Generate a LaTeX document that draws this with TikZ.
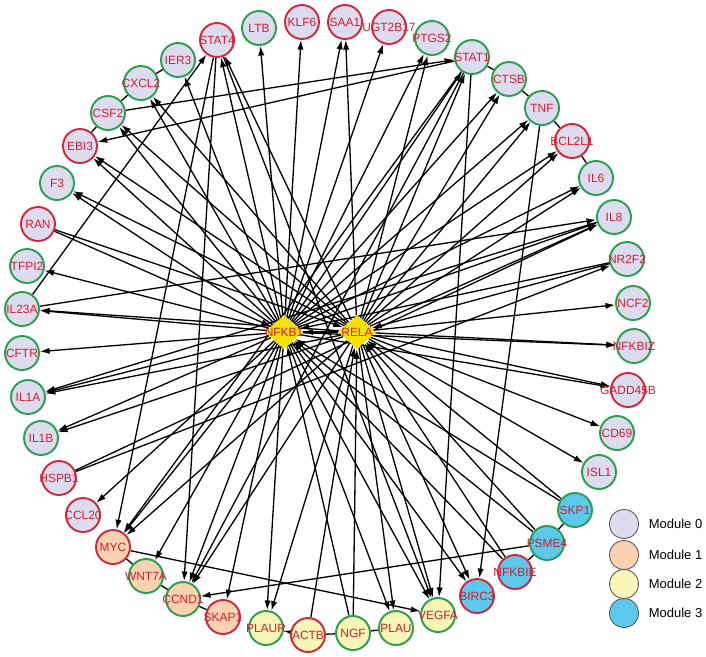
\documentclass[tikz,border=0pt]{standalone}
\usepackage{fontspec}
\setmainfont{Liberation Sans}
\usetikzlibrary{arrows.meta,positioning,shapes.geometric,backgrounds}

\definecolor{modzero}{RGB}{220,220,238}
\definecolor{modone}{RGB}{250,210,178}
\definecolor{modtwo}{RGB}{248,245,182}
\definecolor{modthree}{RGB}{92,200,236}
\definecolor{ringgreen}{RGB}{40,160,80}
\definecolor{ringred}{RGB}{210,40,60}
\definecolor{genered}{RGB}{210,30,50}
\definecolor{hubyellow}{RGB}{245,225,0}

\begin{document}
\begin{tikzpicture}[
  x=0.02cm, y=-0.02cm,
  font=\fontsize{6.8}{8}\selectfont,
  link/.style={-{Latex[length=5.5pt,width=3.6pt]}, line width=0.75pt},
  tie/.style={line width=0.75pt},
  gene/.style={circle, draw, line width=1.1pt, minimum size=0.68cm, inner sep=0pt},
  gtext/.style={text=genered, inner sep=0pt},
  mod0/.style={fill=modzero},
  mod1/.style={fill=modone},
  mod2/.style={fill=modtwo},
  mod3/.style={fill=modthree},
  ringr/.style={draw=ringred},
  ringg/.style={draw=ringgreen},
  hub/.style={diamond, fill=hubyellow, minimum width=0.76cm, minimum height=0.68cm, inner sep=0pt},
  key/.style={circle, draw=gray!70!black, line width=0.5pt, minimum size=0.58cm, inner sep=0pt},
  keytext/.style={font=\fontsize{7.4}{9}\selectfont, inner sep=0pt}
]
\useasboundingbox (0,0) rectangle (706,656);

% Hubs in the middle.
\node[hub, label={[gtext]center:NFKB1}] (NFKB1) at (284,332) {};
\node[hub, label={[gtext]center:RELA}] (RELA) at (357,332) {};

% Genes on the ring: name/x/y/module/ring colour.
\foreach \n/\x/\y/\m/\r in {
  STAT4/217/40/0/r, LTB/259/28/0/g, KLF6/302/22/0/r, SAA1/345/22/0/r,
  UGT2B17/389/27/0/r, PTGS2/432/38/0/g, STAT1/472/57/0/g, CTSB/509/79/0/g,
  TNF/542/108/0/g, BCL2L1/572/141/0/r, IL6/596/178/0/g, IL8/614/217/0/g,
  NR2F2/627/259/0/g, NCF2/633/303/0/g, NFKBIZ/634/346/0/g, GADD45B/628/390/0/r,
  CD69/617/433/0/g, ISL1/599/472/0/g, SKP1/575/510/3/g, PSME4/547/543/3/g,
  NFKBIE/515/572/3/r, BIRC3/477/596/3/r, VEGFA/438/615/2/g, PLAU/396/628/2/g,
  NGF/353/633/2/g, ACTB/308/635/2/r, PLAUR/266/628/2/g, SKAP1/223/617/1/r,
  CCND1/183/599/1/g, WNT7A/146/576/1/g, MYC/113/547/1/r, CCL20/83/515/0/r,
  HSPB1/59/478/0/r, IL1B/41/438/0/g, IL1A/28/397/0/g, CFTR/22/353/0/g,
  IL23A/22/309/0/g, TFPI2/27/266/0/g, RAN/38/224/0/r, F3/57/183/0/g,
  EBI3/80/146/0/r, CSF2/108/113/0/g, CXCL2/141/83/0/g, IER3/178/60/0/g}
  \node[gene, mod\m, ring\r, label={[gtext]center:\n}] (\n) at (\x,\y) {};

% Legend.
\node[key, mod0] (key0) at (624,524) {};
\node[key, mod1] (key1) at (624,555) {};
\node[key, mod2] (key2) at (624,584) {};
\node[key, mod3] (key3) at (624,613) {};
\node[keytext, right=1.9mm of key0] (lab0) {Module 0};
\node[keytext, right=1.9mm of key1] (lab1) {Module 1};
\node[keytext, right=1.9mm of key2] (lab2) {Module 2};
\node[keytext, right=1.9mm of key3] (lab3) {Module 3};

\begin{scope}[on background layer]
% Regulation by the two hubs.
\foreach \t in {STAT4, LTB, KLF6, SAA1, UGT2B17, PTGS2, STAT1, CTSB, TNF,
  BCL2L1, IL6, IL8, NFKBIZ, GADD45B, BIRC3, VEGFA, PLAU, PLAUR, SKAP1,
  CCND1, WNT7A, MYC, CCL20, IL1B, IL1A, CFTR, IL23A, TFPI2, F3, EBI3,
  CSF2, CXCL2, IER3, RELA}
  \draw[link] (NFKB1) -- (\t);
\foreach \t in {STAT4, SAA1, PTGS2, STAT1, CTSB, TNF, BCL2L1, IL6, IL8,
  NCF2, NFKBIZ, GADD45B, CD69, ISL1, BIRC3, VEGFA, PLAU, PLAUR, CCND1,
  MYC, IL1B, IL1A, IL23A, F3, EBI3, CSF2, CXCL2, NFKB1}
  \draw[link] (RELA) -- (\t);
\foreach \s in {RAN, NR2F2, NFKBIE, PSME4, SKP1, NGF} {
  \draw[link] (\s) -- (NFKB1);
  \draw[link] (\s) -- (RELA);
}

% Other regulation.
\foreach \s/\t in {ACTB/RELA, HSPB1/IL8, HSPB1/NR2F2, IL23A/STAT4, IL23A/IL8,
  IL8/IL1A, CSF2/STAT1, STAT1/EBI3, STAT4/MYC, STAT4/CCND1, STAT4/VEGFA,
  STAT1/VEGFA, STAT1/CCND1, STAT1/MYC, TNF/BIRC3, MYC/VEGFA, PSME4/CCND1,
  ACTB/PLAUR}
  \draw[link] (\s) -- (\t);

% Interactions between neighbours.
\foreach \s/\t in {IER3/CXCL2, CXCL2/CSF2, CSF2/EBI3, STAT1/CTSB, CTSB/TNF,
  TNF/BCL2L1, BCL2L1/IL6, MYC/WNT7A, WNT7A/CCND1, CCND1/SKAP1, ACTB/NGF,
  NGF/PLAU, NFKBIE/PSME4, PSME4/SKP1}
  \draw[tie] (\s) -- (\t);
\end{scope}

\end{tikzpicture}
\end{document}
